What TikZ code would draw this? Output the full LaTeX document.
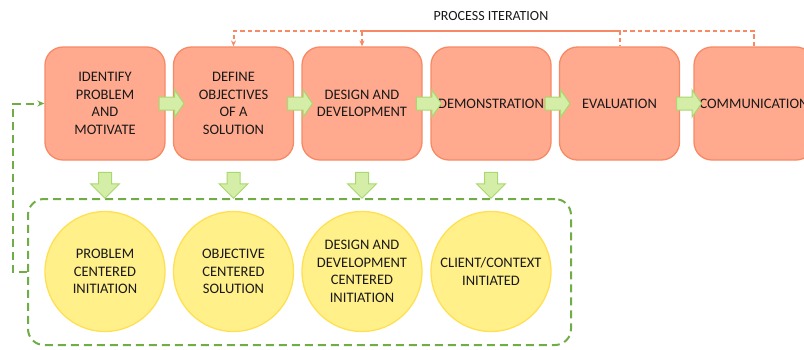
\documentclass[tikz,border=0pt]{standalone}
\usepackage{fontspec}
\setmainfont{Carlito}
\usetikzlibrary{shapes.arrows,arrows.meta,calc}

\definecolor{salmonfill}{RGB}{255,170,142}
\definecolor{salmonline}{RGB}{247,138,100}
\definecolor{sunfill}{RGB}{255,240,138}
\definecolor{sunline}{RGB}{255,224,84}
\definecolor{leaffill}{RGB}{212,238,168}
\definecolor{leafline}{RGB}{168,216,110}
\definecolor{loopgreen}{RGB}{112,173,71}
\definecolor{inkdark}{RGB}{25,25,25}

\tikzset{
  stage/.style={draw=salmonline, fill=salmonfill, line width=1.3pt, rounded corners=18pt,
    minimum width=120pt, minimum height=113pt, align=center, inner sep=0pt, text=inkdark,
    font=\fontsize{14.5pt}{17.5pt}\selectfont},
  entry/.style={circle, draw=sunline, fill=sunfill, line width=1.3pt, minimum size=120pt,
    align=center, inner sep=0pt, text=inkdark, font=\fontsize{14.5pt}{17.5pt}\selectfont},
  fatright/.style={single arrow, draw=leafline, fill=leaffill, line width=1pt, inner sep=6pt,
    minimum height=25pt, single arrow head extend=7pt, single arrow tip angle=110},
  fatdown/.style={fatright, shape border rotate=270, minimum height=26pt,
    single arrow head extend=8pt, single arrow tip angle=90},
  iterline/.style={draw=salmonline, line width=2pt, dash pattern=on 4.5pt off 3pt,
    -{Stealth[length=6pt,width=5pt]}},
  loopline/.style={draw=loopgreen, line width=2pt, dash pattern=on 8pt off 5pt,
    -{Stealth[length=7pt,width=6pt]}},
}

\begin{document}
\begin{tikzpicture}[x=1pt,y=-1pt]
  \useasboundingbox (0,0) rectangle (804,349);
  \clip (0,0) rectangle (804,349);

  \node[stage] (identify)      at (105,103.5)   {IDENTIFY\\PROBLEM\\AND\\MOTIVATE};
  \node[stage] (objectives)    at (233.5,103.5) {DEFINE\\OBJECTIVES\\OF A\\SOLUTION};
  \node[stage] (design)        at (362,103.5)   {DESIGN AND\\DEVELOPMENT};
  \node[stage] (demo)          at (491,103.5)   {DEMONSTRATION};
  \node[stage] (evaluation)    at (619.5,103.5) {EVALUATION};
  \node[stage] (communication) at (754,103.5)   {COMMUNICATION};

  \node[fatright] (push1) at ($(identify.east)!0.5!(objectives.west)$)     {};
  \node[fatright] (push2) at ($(objectives.east)!0.5!(design.west)$)       {};
  \node[fatright] (push3) at ($(design.east)!0.5!(demo.west)$)             {};
  \node[fatright] (push4) at ($(demo.east)!0.5!(evaluation.west)$)         {};
  \node[fatright] (push5) at ($(evaluation.east)!0.5!(communication.west)$) {};

  \node[draw=loopgreen, line width=2pt, dash pattern=on 8pt off 5pt, rounded corners=16pt,
        minimum width=543pt, minimum height=146pt] (entries) at (299.5,272) {};

  \node[entry] (problem)   at (105,271.5)   {PROBLEM\\CENTERED\\INITIATION};
  \node[entry] (objective) at (233.5,271.5) {OBJECTIVE\\CENTERED\\SOLUTION};
  \node[entry] (designdev) at (362,271.5)   {DESIGN AND\\DEVELOPMENT\\CENTERED\\INITIATION};
  \node[entry] (client)    at (491,271.5)   {CLIENT/CONTEXT\\INITIATED};

  \node[fatdown] (drop1) at (identify.south |- 0,182)   {};
  \node[fatdown] (drop2) at (objectives.south |- 0,182) {};
  \node[fatdown] (drop3) at (design.south |- 0,182)     {};
  \node[fatdown] (drop4) at (demo.south |- 0,182)       {};

  \node[text=inkdark, font=\fontsize{14pt}{17pt}\selectfont] (iterlabel) at (491,16) {PROCESS ITERATION};
  \draw[iterline] (communication.north) -- ++(0,-15.5) -| (objectives.north);
  \draw[iterline, dash phase=3.5pt] (evaluation.north) -- ++(0,-15.5) -| (design.north);

  \draw[loopline] (entries.west) -- ++(-14,0) |- (identify.west);
\end{tikzpicture}
\end{document}
